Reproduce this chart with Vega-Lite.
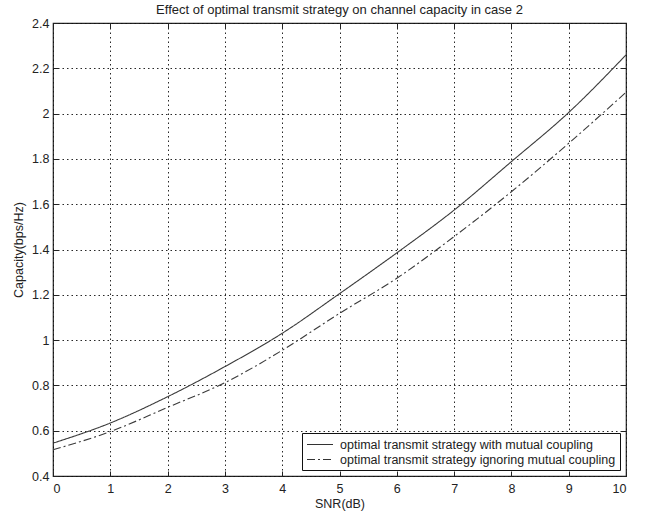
{
  "$schema": "https://vega.github.io/schema/vega-lite/v6.json",
  "width": 573,
  "height": 453,
  "autosize": "none",
  "padding": {"left": 53, "top": 23, "right": 24, "bottom": 38},
  "background": "white",
  "title": {
    "text": "Effect of optimal transmit strategy on channel capacity in case 2",
    "fontSize": 13,
    "fontWeight": "normal",
    "font": "Liberation Sans",
    "color": "#222",
    "offset": 0,
    "anchor": "middle"
  },
  "config": {
    "view": {"stroke": "#222", "strokeWidth": 1.2},
    "axis": {
      "labelFont": "Liberation Sans",
      "titleFont": "Liberation Sans",
      "labelFontSize": 12.5,
      "titleFontSize": 12.5,
      "titleFontWeight": "normal",
      "labelColor": "#222",
      "titleColor": "#222",
      "domain": false,
      "tickColor": "#222",
      "tickSize": -5,
      "tickWidth": 1,
      "gridColor": "#111",
      "gridDash": [1.5, 3],
      "gridOpacity": 0.9,
      "gridWidth": 1
    }
  },
  "data": {
    "values": [
      {"snr": 0, "cap": 0.545, "series": "optimal transmit strategy with mutual coupling"},
      {"snr": 1, "cap": 0.634, "series": "optimal transmit strategy with mutual coupling"},
      {"snr": 2, "cap": 0.750, "series": "optimal transmit strategy with mutual coupling"},
      {"snr": 3, "cap": 0.883, "series": "optimal transmit strategy with mutual coupling"},
      {"snr": 4, "cap": 1.030, "series": "optimal transmit strategy with mutual coupling"},
      {"snr": 5, "cap": 1.205, "series": "optimal transmit strategy with mutual coupling"},
      {"snr": 6, "cap": 1.385, "series": "optimal transmit strategy with mutual coupling"},
      {"snr": 7, "cap": 1.574, "series": "optimal transmit strategy with mutual coupling"},
      {"snr": 8, "cap": 1.788, "series": "optimal transmit strategy with mutual coupling"},
      {"snr": 9, "cap": 2.005, "series": "optimal transmit strategy with mutual coupling"},
      {"snr": 10, "cap": 2.259, "series": "optimal transmit strategy with mutual coupling"},
      {"snr": 0, "cap": 0.516, "series": "optimal transmit strategy ignoring mutual coupling"},
      {"snr": 1, "cap": 0.596, "series": "optimal transmit strategy ignoring mutual coupling"},
      {"snr": 2, "cap": 0.703, "series": "optimal transmit strategy ignoring mutual coupling"},
      {"snr": 3, "cap": 0.812, "series": "optimal transmit strategy ignoring mutual coupling"},
      {"snr": 4, "cap": 0.955, "series": "optimal transmit strategy ignoring mutual coupling"},
      {"snr": 5, "cap": 1.118, "series": "optimal transmit strategy ignoring mutual coupling"},
      {"snr": 6, "cap": 1.273, "series": "optimal transmit strategy ignoring mutual coupling"},
      {"snr": 7, "cap": 1.457, "series": "optimal transmit strategy ignoring mutual coupling"},
      {"snr": 8, "cap": 1.655, "series": "optimal transmit strategy ignoring mutual coupling"},
      {"snr": 9, "cap": 1.869, "series": "optimal transmit strategy ignoring mutual coupling"},
      {"snr": 10, "cap": 2.094, "series": "optimal transmit strategy ignoring mutual coupling"}
    ]
  },
  "layer": [
    {
      "mark": {"type": "line", "interpolate": "monotone", "strokeWidth": 1.1, "color": "#3a3a3a"},
      "encoding": {
        "x": {
          "field": "snr", "type": "quantitative",
          "scale": {"domain": [0, 10], "nice": false, "zero": false},
          "axis": {"orient": "bottom", "values": [0,1,2,3,4,5,6,7,8,9,10], "grid": true, "title": "SNR(dB)", "labelPadding": 11, "titlePadding": 3}
        },
        "y": {
          "field": "cap", "type": "quantitative",
          "scale": {"domain": [0.4, 2.4], "nice": false, "zero": false},
          "axis": {"orient": "left", "values": [0.4,0.6,0.8,1,1.2,1.4,1.6,1.8,2,2.2,2.4], "format": "~g", "grid": true, "title": "Capacity(bps/Hz)", "labelPadding": 9, "titlePadding": 6}
        },
        "strokeDash": {
          "field": "series", "type": "nominal",
          "scale": {
            "domain": ["optimal transmit strategy with mutual coupling", "optimal transmit strategy ignoring mutual coupling"],
            "range": [[1, 0], [8, 3, 2, 3]]
          },
          "legend": {
            "title": null,
            "orient": "bottom-right",
            "offset": 6,
            "fillColor": "white",
            "strokeColor": "#111",
            "padding": 4,
            "rowPadding": 1,
            "symbolType": "M-1,0H3",
            "symbolSize": 169,
            "symbolStrokeWidth": 1.1,
            "symbolStrokeColor": "#333",
            "labelFont": "Liberation Sans",
            "labelFontSize": 12.5,
            "labelColor": "#222",
            "labelLimit": 400,
            "labelOffset": 19
          }
        }
      }
    },
    {
      "mark": {"type": "point", "opacity": 0},
      "encoding": {
        "x": {
          "field": "snr", "type": "quantitative",
          "axis": {"orient": "top", "values": [0,1,2,3,4,5,6,7,8,9,10], "labels": false, "grid": false, "title": null}
        },
        "y": {
          "field": "cap", "type": "quantitative",
          "axis": {"orient": "right", "values": [0.4,0.6,0.8,1,1.2,1.4,1.6,1.8,2,2.2,2.4], "labels": false, "grid": false, "title": null}
        }
      }
    }
  ],
  "resolve": {"scale": {"x": "shared", "y": "shared"}, "axis": {"x": "independent", "y": "independent"}}
}
